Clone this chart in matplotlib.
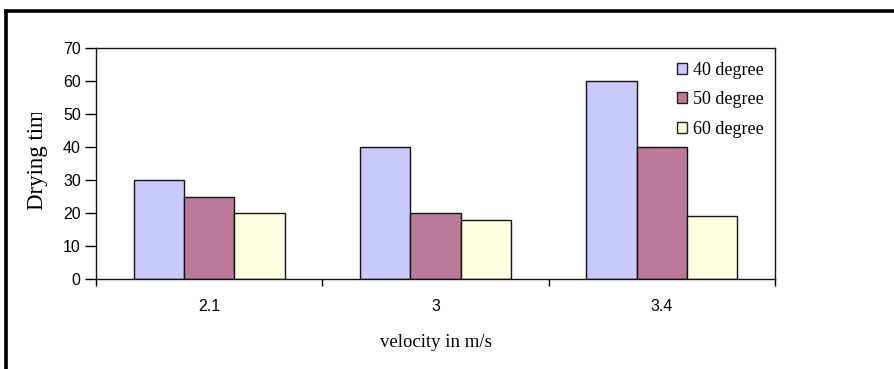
import matplotlib
matplotlib.use("Agg")
import matplotlib.pyplot as plt
import numpy as np
from matplotlib.patches import Patch, Rectangle

# Drying time per air velocity, one series per drying temperature
velocities = ["2.1", "3", "3.4"]
series_names = ["40 degree", "50 degree", "60 degree"]
time_40 = [30, 40, 60]
time_50 = [25, 20, 40]
time_60 = [20, 18, 19]

face_colors = ["#c9c9fb", "#bb7a99", "#fefee2"]
serif = "Liberation Serif"
sans = "Liberation Sans"

W, H = 894, 369
fig = plt.figure(figsize=(W / 100, H / 100), dpi=100)
fig.patch.set_facecolor("white")

# plot area in pixel coordinates
left, right, top, bottom = 96, 775, 48, 279
ax = fig.add_axes([left / W, 1 - bottom / H, (right - left) / W, (bottom - top) / H])

x = np.arange(len(velocities))
bw = 1 / 4.5
for i, (vals, col) in enumerate(zip([time_40, time_50, time_60], face_colors)):
    ax.bar(x + (i - 1) * bw, vals, width=bw, color=col, edgecolor="#111111",
           linewidth=1.0, label=series_names[i], zorder=2)

ax.set_xlim(-0.5, len(velocities) - 0.5)
ax.set_ylim(0, 70)
ax.set_yticks(range(0, 71, 10))
ax.tick_params(axis="y", direction="out", length=8, width=1, labelsize=11.5, pad=3)
for lab in ax.get_yticklabels():
    lab.set_fontfamily(sans)

# category labels in the middle, tick marks on the category boundaries
ax.set_xticks(np.arange(-0.5, len(velocities), 1.0))
ax.set_xticklabels([])
ax.tick_params(axis="x", direction="out", length=5, width=1)
for xi, lab in zip(x, velocities):
    ax.text(xi, -0.12, lab, transform=ax.get_xaxis_transform(), ha="center",
            va="center", fontsize=11.5, fontfamily=sans)

for s in ax.spines.values():
    s.set_linewidth(1.0)
    s.set_color("#111111")

ax.text(0.5, -0.275, "velocity in m/s", transform=ax.transAxes, ha="center",
        va="center", fontsize=13.5, fontfamily=serif)

# y label, its upper end hidden behind a white strip
fig.text(38 / W, 1 - 210 / H, "Drying time", rotation=90, ha="center",
         va="bottom", fontsize=16.5, fontfamily=serif, zorder=1)
fig.add_artist(Rectangle((20 / W, 1 - 113 / H), 40 / W, 40 / H, facecolor="white",
                         edgecolor="none", transform=fig.transFigure, zorder=5))

handles = [Patch(facecolor=c, edgecolor="#222222", linewidth=1.0) for c in face_colors]
leg = ax.legend(handles, series_names, loc="upper left",
                bbox_to_anchor=((677 - left) / (right - left), 1 - (62 - top) / (bottom - top)),
                frameon=False, prop={"family": serif, "size": 13},
                handlelength=0.55, handleheight=0.55, handletextpad=0.35,
                labelspacing=0.68, borderpad=0, borderaxespad=0)

# outer chart frame (only the top and left edges fall inside the image)
fig.add_artist(plt.Line2D([5.5 / W, 1], [1 - 11 / H, 1 - 11 / H], color="black",
                          linewidth=2.6, transform=fig.transFigure, zorder=6))
fig.add_artist(plt.Line2D([5.5 / W, 5.5 / W], [0, 1 - 11 / H], color="black",
                          linewidth=2.6, transform=fig.transFigure, zorder=6))

fig.savefig("out.png", dpi=100)
